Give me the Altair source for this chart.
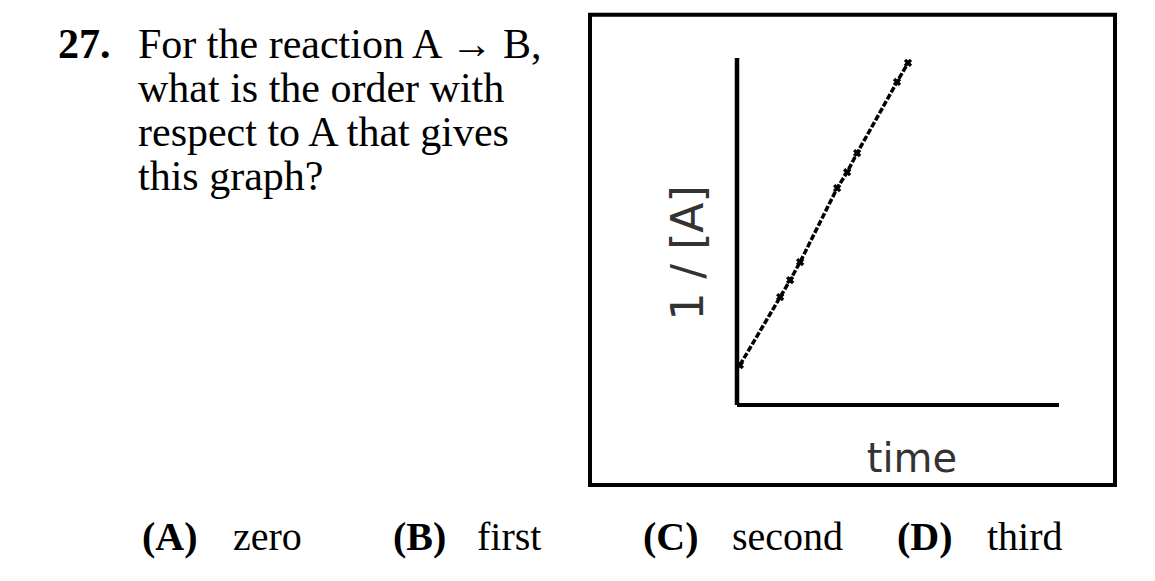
import altair as alt
import pandas as pd

# ---- data ----
time_vals = [0.09, 1.34, 1.65, 1.96, 3.11, 3.42, 3.73, 4.97, 5.31]
inv_a_vals = [1.15, 3.11, 3.60, 4.12, 6.25, 6.71, 7.26, 9.31, 9.86]

question_number = "27."
question_lines = [
    "For the reaction A \u2192 B,",
    "what is the order with",
    "respect to A that gives",
    "this graph?",
]
option_letters = ["(A)", "(B)", "(C)", "(D)"]
option_words = ["zero", "first", "second", "third"]
x_label = "time"
y_label = "1 / [A]"

axis_x = [0, 10]
axis_y = [0, 10]

df = pd.DataFrame({"t": time_vals, "inv": inv_a_vals})
axes_df = pd.DataFrame({"x0": [0, 0], "x1": [0, axis_x[1]], "y0": [0, 0], "y1": [axis_y[1], 0]})

W, H = 1139, 565
xs = alt.Scale(domain=axis_x, range=[729, 1051], nice=False, zero=False)
ys = alt.Scale(domain=axis_y, range=[397, 50], nice=False, zero=False)

serif = "Liberation Serif"

box = alt.Chart(pd.DataFrame({"a": [0]})).mark_rect(
    fill=None, stroke="black", strokeWidth=4
).encode(x=alt.value(582), x2=alt.value(1107), y=alt.value(6.7), y2=alt.value(477))

yaxis = alt.Chart(axes_df.iloc[[0]]).mark_rule(color="black", strokeWidth=4.5).encode(
    x=alt.X("x0:Q", scale=xs, axis=None), y=alt.Y("y0:Q", scale=ys, axis=None), y2="y1:Q"
)
xaxis = alt.Chart(axes_df.iloc[[1]]).mark_rule(color="black", strokeWidth=4).encode(
    x=alt.X("x0:Q", scale=xs, axis=None), x2="x1:Q", y=alt.Y("y0:Q", scale=ys, axis=None)
)

line = alt.Chart(df).mark_line(color="black", strokeWidth=3.5, strokeDash=[6, 2]).encode(
    x=alt.X("t:Q", scale=xs, axis=None), y=alt.Y("inv:Q", scale=ys, axis=None)
)
pts = alt.Chart(df).mark_point(shape="cross", filled=True, color="black", size=70, opacity=1, angle=45).encode(
    x=alt.X("t:Q", scale=xs, axis=None), y=alt.Y("inv:Q", scale=ys, axis=None)
)

one = pd.DataFrame({"a": [0]})

def txt(s, x, y, size=40, bold=False, font=serif, align="left", baseline="alphabetic", angle=0, color="black", lh=None):
    kw = dict(font=font, fontSize=size, fontWeight="bold" if bold else "normal",
              align=align, baseline=baseline, color=color)
    if angle:
        kw["angle"] = angle
    if lh:
        kw["lineHeight"] = lh
    return alt.Chart(one).mark_text(**kw).encode(x=alt.value(x), y=alt.value(y), text=alt.value(s))

layers = [box, yaxis, xaxis, line, pts,
          txt(question_number, 50, 50, size=42, bold=True),
          txt(question_lines, 130, 50, size=42, lh=44),
          txt(y_label, 682, 245, size=44, font="DejaVu Sans", align="center", baseline="middle", angle=270, color="#333"),
          txt(x_label, 904, 464, size=40, font="DejaVu Sans", align="center", color="#333")]

opt_letter_x = [134, 385, 635, 889]
opt_word_x = [225, 469, 724, 979]
for i in range(4):
    layers.append(txt(option_letters[i], opt_letter_x[i], 542, bold=True))
    layers.append(txt(option_words[i], opt_word_x[i], 542))

chart = alt.layer(*layers).properties(
    width=W, height=H, padding=0, autosize=alt.AutoSizeParams(type="none"), background="white"
).configure_view(stroke=None)

chart.save("out.html", embed_options={"renderer": "svg", "actions": False})
